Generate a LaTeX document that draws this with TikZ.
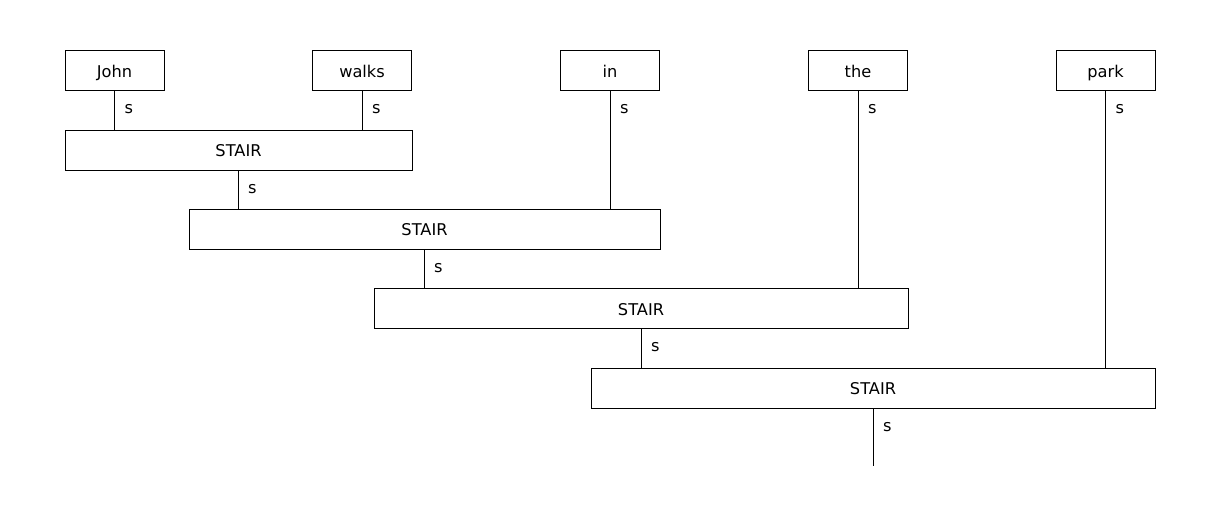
\documentclass[tikz,border=0pt]{standalone}
\usepackage{fontspec}
\setmainfont{DejaVu Sans}
\begin{document}
\begin{tikzpicture}[x=1pt,y=-1pt,
  txt/.style={font=\fontsize{16.2}{18}\selectfont},
  boxtxt/.style={txt,text height=14pt,text depth=0.6pt},
  word/.style={draw,line width=1pt,minimum width=99pt,minimum height=39pt,inner sep=0pt,boxtxt},
  stairbox/.style={draw,line width=1pt,minimum height=40pt,inner sep=0pt,boxtxt},
  conn/.style={line width=1pt},
  lab/.style={txt,anchor=west,inner sep=0pt}]
\useasboundingbox (0,0) rectangle (1220,519);
\node[word] (john) at (114.5,70.5) {John};
\node[word] (walks) at (362,70.5) {walks};
\node[word] (in) at (610,70.5) {in};
\node[word] (the) at (858,70.5) {the};
\node[word] (park) at (1105.5,70.5) {park};
\node[stairbox,minimum width=347pt] (s1) at (238.5,150) {STAIR};
\node[stairbox,minimum width=471pt] (s2) at (424.5,229) {STAIR};
\node[stairbox,minimum width=534pt] (s3) at (641,308.5) {STAIR};
\node[stairbox,minimum width=564pt] (s4) at (873,388) {STAIR};
\coordinate (out) at (873,466);
\draw[conn] (john.south) -- (john.south |- s1.north);
\draw[conn] (walks.south) -- (walks.south |- s1.north);
\draw[conn] (in.south) -- (in.south |- s2.north);
\draw[conn] (the.south) -- (the.south |- s3.north);
\draw[conn] (park.south) -- (park.south |- s4.north);
\draw[conn] (s1.south -| 238,0) -- (238,0 |- s2.north);
\draw[conn] (s2.south -| 424,0) -- (424,0 |- s3.north);
\draw[conn] (s3.south -| 641,0) -- (641,0 |- s4.north);
\draw[conn] (s4.south) -- (out);
\foreach \n in {john,walks,in,the,park}
  \node[lab] (l\n) at ([xshift=10pt,yshift=-19pt]\n.south) {s};
\node[lab] (ls1) at (248,189) {s};
\node[lab] (ls2) at (434,268) {s};
\node[lab] (ls3) at (651,347) {s};
\node[lab] (ls4) at (883,427) {s};
\end{tikzpicture}
\end{document}
